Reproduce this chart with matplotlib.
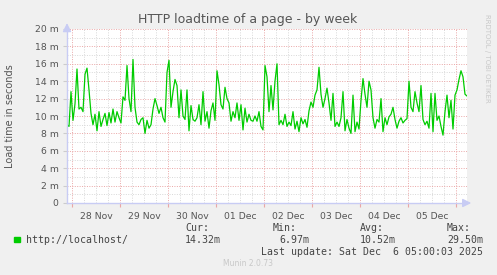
import matplotlib
matplotlib.use("Agg")
import matplotlib.pyplot as plt
from matplotlib.ticker import FixedLocator, MultipleLocator

# hourly load time values (milliseconds), starting ~27 Nov 21:30
load_ms = [
    9.0, 8.8, 12.8, 9.5, 11.4, 15.4, 10.8, 11.0, 10.5, 14.8,
    15.5, 13.0, 10.3, 9.0, 10.2, 8.3, 10.5, 8.8, 9.6, 10.3,
    8.9, 10.4, 9.2, 10.8, 9.3, 10.5, 9.8, 9.2, 12.2, 11.8,
    15.8, 12.0, 10.5, 16.5, 11.0, 9.3, 9.0, 9.6, 9.8, 8.0,
    9.5, 8.6, 9.0, 10.8, 12.0, 11.2, 10.3, 11.0, 9.8, 9.3,
    15.0, 16.4, 11.0, 12.8, 14.2, 13.5, 9.8, 13.0, 10.0, 9.6,
    13.0, 8.3, 11.2, 9.6, 9.4, 9.8, 11.3, 9.0, 12.8, 9.4,
    10.5, 8.6, 10.6, 11.5, 9.5, 15.2, 13.6, 11.3, 10.8, 13.3,
    12.0, 11.5, 9.4, 10.5, 9.8, 11.5, 9.5, 11.3, 8.4, 10.9,
    9.3, 10.2, 9.5, 9.4, 10.0, 9.4, 10.5, 8.8, 8.4, 15.8,
    14.5, 10.5, 13.5, 10.7, 14.0, 16.0, 9.0, 9.5, 9.0, 10.2,
    8.8, 9.3, 8.9, 10.5, 8.5, 9.4, 8.2, 9.8, 9.1, 9.6,
    8.7, 10.6, 11.6, 11.0, 12.4, 13.0, 15.6, 12.5, 11.0, 12.0,
    13.2, 11.5, 9.5, 12.6, 8.8, 9.3, 8.8, 9.8, 12.8, 8.3,
    9.6, 8.6, 8.0, 12.4, 8.2, 9.3, 8.5, 11.8, 14.3, 12.5,
    11.0, 14.0, 13.0, 9.8, 8.6, 9.6, 9.3, 12.0, 8.2, 9.8,
    9.0, 9.9, 10.2, 11.0, 9.6, 8.6, 9.4, 9.8, 9.2, 9.5,
    9.7, 14.0, 11.0, 10.5, 12.8, 11.5, 10.5, 13.5, 9.6, 9.0,
    9.4, 8.6, 12.6, 8.2, 12.6, 9.5, 10.0, 8.8, 7.8, 10.5,
    12.4, 9.8, 11.8, 8.5, 12.4, 13.0, 14.2, 15.2, 14.5, 12.5,
    12.3,
]
hours = list(range(len(load_ms)))

day_labels = ["28 Nov", "29 Nov", "30 Nov", "01 Dec", "02 Dec",
              "03 Dec", "04 Dec", "05 Dec"]
y_ticks = [0, 2, 4, 6, 8, 10, 12, 14, 16, 18, 20]
y_tick_labels = ["0"] + [f"{v} m" for v in y_ticks[1:]]

first_midnight = 2.5  # hours from start to 28 Nov 00:00

BG = "#F0F0F0"
TXT = "#555555"

fig = plt.figure(figsize=(4.97, 2.75), dpi=100, facecolor=BG)
ax = fig.add_axes([67 / 497, 72 / 275, 400 / 497, 174 / 275])
ax.set_facecolor("white")

ax.plot(hours, load_ms, color="#00CC00", lw=0.9, solid_joinstyle="round")

ax.set_xlim(0, 200)
ax.set_ylim(0, 20)

major_x = [first_midnight + 24 * i for i in range(9)]
minor_x = [first_midnight + 6 * i for i in range(-1, 34) if (i % 4) != 0]
minor_x = [m for m in minor_x if 0 <= m <= 200]
ax.xaxis.set_major_locator(FixedLocator(major_x))
ax.xaxis.set_minor_locator(FixedLocator(minor_x))
ax.set_xticklabels([])
ax.yaxis.set_major_locator(FixedLocator(y_ticks))
ax.yaxis.set_minor_locator(MultipleLocator(1))
ax.set_yticklabels(y_tick_labels, fontsize=6.7, color=TXT)

ax.grid(which="minor", color="#d8d8d8", linestyle=(0, (1, 1.5)), lw=0.7)
ax.grid(which="major", color="#eaa6a6", linestyle=(0, (1, 1.5)), lw=0.7)
ax.set_axisbelow(True)

ax.tick_params(axis="x", which="major", length=3, color="#eaa6a6", width=0.8)
ax.tick_params(axis="x", which="minor", length=0)
ax.tick_params(axis="y", which="major", length=3, color="#cccccc", width=0.8, pad=3)
ax.tick_params(axis="y", which="minor", length=0)

for s in ["top", "right"]:
    ax.spines[s].set_visible(False)
ax.spines["left"].set_color("#c8ccf4")
ax.spines["bottom"].set_color("#c8ccf4")
ax.spines["left"].set_linewidth(1.0)
ax.spines["bottom"].set_linewidth(1.0)

# axis arrows
ax.annotate("", xy=(0, 21.0), xytext=(0, 19.5), xycoords="data",
            arrowprops=dict(arrowstyle="-|>,head_width=0.25,head_length=0.5",
                            color="#c8ccf4", lw=1.0), annotation_clip=False)
ax.annotate("", xy=(203.5, 0), xytext=(199, 0), xycoords="data",
            arrowprops=dict(arrowstyle="-|>,head_width=0.25,head_length=0.5",
                            color="#c8ccf4", lw=1.0), annotation_clip=False)

# day labels at noon
for i, lab in enumerate(day_labels):
    ax.text(first_midnight + 12 + 24 * i, -1.0, lab, ha="center", va="top",
            fontsize=6.7, color=TXT)

fig.text(248 / 497, 1 - 20 / 275, "HTTP loadtime of a page - by week",
         ha="center", va="center", fontsize=9, color=TXT)
fig.text(10 / 497, 1 - 116 / 275, "Load time in seconds", rotation=90,
         ha="center", va="center", fontsize=7, color=TXT)
fig.text(487 / 497, 1 - 58 / 275, "RRDTOOL / TOBI OETIKER", rotation=-90,
         ha="center", va="center", fontsize=5, color="#c8c8c8")

mono = dict(family="DejaVu Sans Mono", fontsize=7.1, color="#444444", va="center")
fig.patches.append(plt.Rectangle((14 / 497, 1 - 242.3 / 275), 6 / 497, 5 / 275,
                                 transform=fig.transFigure, color="#00CC00"))
fig.text(26 / 497, 1 - 240 / 275, "http://localhost/", **mono)
fig.text(185 / 497, 1 - 228 / 275, "Cur:", **mono)
fig.text(185 / 497, 1 - 240 / 275, "14.32m", **mono)
fig.text(273 / 497, 1 - 228 / 275, "Min:", **mono)
fig.text(279 / 497, 1 - 240 / 275, "6.97m", **mono)
fig.text(360 / 497, 1 - 228 / 275, "Avg:", **mono)
fig.text(360 / 497, 1 - 240 / 275, "10.52m", **mono)
fig.text(447 / 497, 1 - 228 / 275, "Max:", **mono)
fig.text(447 / 497, 1 - 240 / 275, "29.50m", **mono)
fig.text(483 / 497, 1 - 252 / 275, "Last update: Sat Dec  6 05:00:03 2025",
         ha="right", **mono)
fig.text(248 / 497, 1 - 264 / 275, "Munin 2.0.73", ha="center", va="center",
         fontsize=5.5, color="#c8c8c8")

fig.savefig("out.png", dpi=100, facecolor=BG)
